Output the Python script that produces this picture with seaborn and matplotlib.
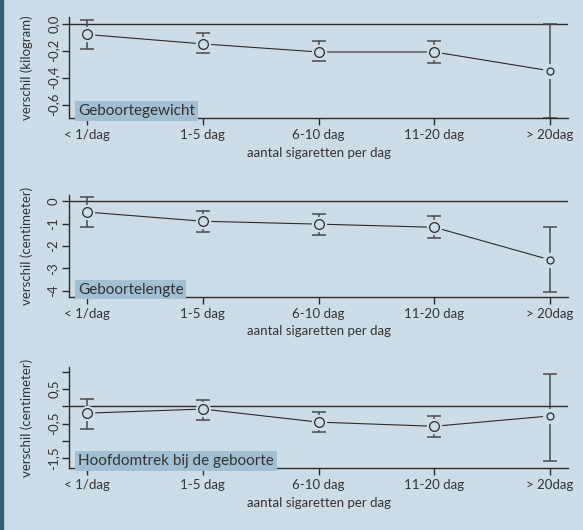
import matplotlib
matplotlib.use('Agg')
import matplotlib.pyplot as plt
import seaborn as sns
import numpy as np

# categories on the x axis
categories = ["< 1/dag", "1-5 dag", "6-10 dag", "11-20 dag", "> 20dag"]

# Geboortegewicht (kilogram): estimate, lower, upper
gewicht = [-0.08, -0.15, -0.21, -0.21, -0.35]
gewicht_lo = [-0.19, -0.22, -0.28, -0.29, -0.70]
gewicht_hi = [0.03, -0.07, -0.13, -0.13, 0.00]

# Geboortelengte (centimeter)
lengte = [-0.48, -0.89, -1.02, -1.16, -2.62]
lengte_lo = [-1.16, -1.37, -1.50, -1.65, -4.07]
lengte_hi = [0.19, -0.44, -0.57, -0.66, -1.17]

# Hoofdomtrek bij de geboorte (centimeter)
hoofd = [-0.20, -0.08, -0.46, -0.58, -0.28]
hoofd_lo = [-0.65, -0.39, -0.76, -0.90, -1.60]
hoofd_hi = [0.21, 0.19, -0.17, -0.27, 0.95]

bg = "#cddde8"
box_col = "#a2c0d1"
dark = "#2b2b2b"

sns.set_theme(style="ticks")
plt.rcParams['font.family'] = ['Lato', 'DejaVu Sans']

fig = plt.figure(figsize=(5.83, 5.30), dpi=100, facecolor=bg)
# dark strip on the left edge
fig.patches.append(plt.Rectangle((0, 0), 0.0045, 1, transform=fig.transFigure,
                                 color="#30606f", zorder=0))

panels = [
    dict(est=gewicht, lo=gewicht_lo, hi=gewicht_hi, title="Geboortegewicht",
         ylabel="verschil (kilogram)", ylim=(-0.70, 0.05),
         ticks=[0, -0.2, -0.4, -0.6], labels=["0,0", "-0,2", "-0,4", "-0,6"],
         rect=[0.1184, 0.7774, 0.856, 0.1906]),
    dict(est=lengte, lo=lengte_lo, hi=lengte_hi, title="Geboortelengte",
         ylabel="verschil (centimeter)", ylim=(-4.27, 0.30),
         ticks=[0, -1, -2, -3, -4], labels=["0", "-1", "-2", "-3", "-4"],
         rect=[0.1184, 0.4402, 0.856, 0.1925]),
    dict(est=hoofd, lo=hoofd_lo, hi=hoofd_hi, title="Hoofdomtrek bij de geboorte",
         ylabel="verschil (centimeter)", ylim=(-1.79, 1.14),
         ticks=[1, 0.5, 0, -0.5, -1, -1.5], labels=["", "0,5", "", "-0,5", "", "-1,5"],
         rect=[0.1184, 0.1170, 0.856, 0.1906]),
]

x = np.arange(len(categories))

for p in panels:
    ax = fig.add_axes(p["rect"])
    ax.set_facecolor(bg)
    est = np.array(p["est"])
    yerr = [est - np.array(p["lo"]), np.array(p["hi"]) - est]

    ax.axhline(0, color=dark, lw=1.0, zorder=1)
    ax.errorbar(x, est, yerr=yerr, fmt="none", ecolor="#4a4a4a",
                elinewidth=1.1, capsize=5, capthick=1.1, zorder=2, clip_on=False)
    sns.lineplot(x=x, y=est, ax=ax, color=dark, lw=0.8, zorder=3)
    # gap around markers
    ax.plot(x, est, "o", ms=10, mfc=bg, mec=bg, zorder=4)
    ax.plot(x[:-1], est[:-1], "o", ms=7, mfc=bg, mec=dark, mew=0.9, zorder=5)
    ax.plot(x[-1:], est[-1:], "o", ms=5, mfc=bg, mec=dark, mew=0.9, zorder=5)

    ax.set_xlim(-0.155, 4.155)
    ax.set_ylim(*p["ylim"])
    ax.set_xticks(x)
    ax.set_xticklabels(categories, fontsize=9.5, color="#333333")
    ax.set_yticks(p["ticks"])
    ax.set_yticklabels(p["labels"], rotation=90, va="center", fontsize=9.5,
                       color="#333333")
    ax.tick_params(axis="y", length=5, width=1, color=dark, pad=2)
    ax.tick_params(axis="x", length=5, width=1, color=dark, pad=3)
    ax.set_xlabel("aantal sigaretten per dag", fontsize=9.5, color="#333333",
                  labelpad=4)
    ax.set_ylabel(p["ylabel"], fontsize=9.5, color="#333333")
    ax.yaxis.set_label_coords(-0.072, 0.5)

    sns.despine(ax=ax)
    for s in ["left", "bottom"]:
        ax.spines[s].set_color(dark)
        ax.spines[s].set_linewidth(1.0)

    ax.text(0.018, 0.0, p["title"], transform=ax.transAxes, fontsize=11,
            color="#333333", va="bottom", ha="left", zorder=6,
            bbox=dict(boxstyle="square,pad=0.18", fc=box_col, ec="none"))

fig.savefig("out.png", dpi=100, facecolor=bg)
